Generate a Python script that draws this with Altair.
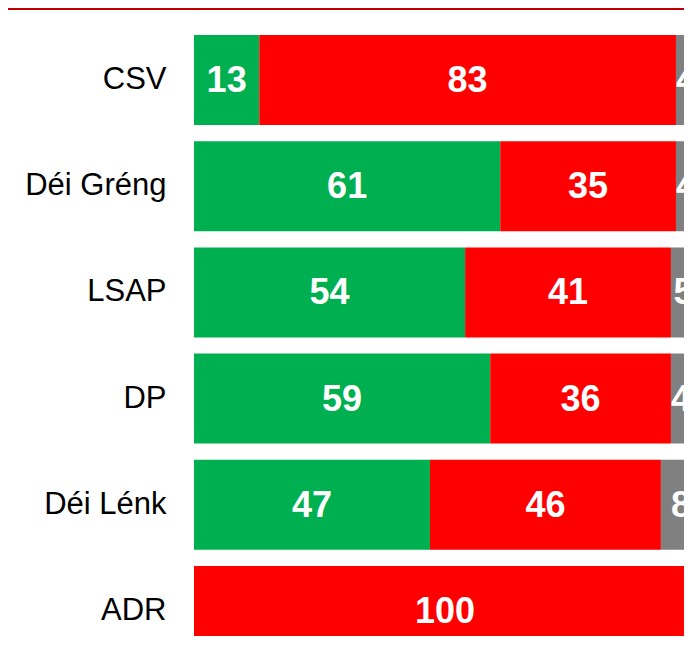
import altair as alt
import pandas as pd

parties = ["CSV", "Déi Gréng", "LSAP", "DP", "Déi Lénk", "ADR"]
yes_vals = [13, 61, 54, 59, 47, 0]
no_vals = [83, 35, 41, 36, 46, 100]
abst_vals = [4, 4, 5, 4, 8, 0]
categories = ["Jo", "Nee", "Enthalung"]
colors = ["#00B050", "#FF0000", "#808080"]

rows = []
for i, p in enumerate(parties):
    for k, (cat, vals) in enumerate(zip(categories, [yes_vals, no_vals, abst_vals])):
        rows.append({"party": p, "cat": cat, "order": k, "v": vals[i]})
df = pd.DataFrame(rows)

FONT = "Liberation Sans"

y_enc = alt.Y(
    "party:N",
    sort=parties,
    scale=alt.Scale(range=[18.9, 656.1], paddingInner=0.1525, paddingOuter=0.07625),
    axis=alt.Axis(
        title=None, ticks=False, domain=False, grid=False, labelPadding=28,
        labelFontSize=31, labelFont=FONT, labelColor="#000000", labelLimit=300,
    ),
)
x_scale = alt.Scale(domain=[0, 97.6], nice=False, zero=True)

base = alt.Chart(df).transform_filter("datum.v > 0").transform_stack(
    stack="v", as_=["x0", "x1"], groupby=["party"], sort=[alt.SortField("order")]
)

bars = base.mark_bar(clip=True).encode(
    y=y_enc,
    x=alt.X("x0:Q", scale=x_scale, axis=None),
    x2="x1:Q",
    color=alt.Color("cat:N", scale=alt.Scale(domain=categories, range=colors), legend=None),
)

labels = base.transform_calculate(mid="(datum.x0 + datum.x1) / 2").mark_text(
    clip=True, font=FONT, fontSize=36, fontWeight="bold", color="white",
    baseline="middle", align="center", dy=1,
).encode(
    y=y_enc,
    x=alt.X("mid:Q", scale=x_scale, axis=None),
    text=alt.Text("v:Q"),
)

# white cover for the faint left frame edge of the view
cover = alt.Chart(df).mark_rule(color="white", strokeWidth=3).encode(
    x=alt.value(0), y=alt.value(3), y2=alt.value(628)
)

topline = alt.Chart(df).mark_rule(color="#C00000", strokeWidth=2).encode(
    x=alt.value(-186), x2=alt.value(490), y=alt.value(1)
)

chart = alt.layer(cover, bars, labels, topline).properties(
    width=490, height=628,
    autosize=alt.AutoSizeParams(type="none"),
    padding={"left": 186, "top": 0, "right": 0, "bottom": 0},
).configure_view(stroke="transparent", strokeOpacity=0).configure_axis(
    domain=False, ticks=False, grid=False
).configure(background="white")

chart.save("out.html", embed_options={"renderer": "svg", "actions": False})
